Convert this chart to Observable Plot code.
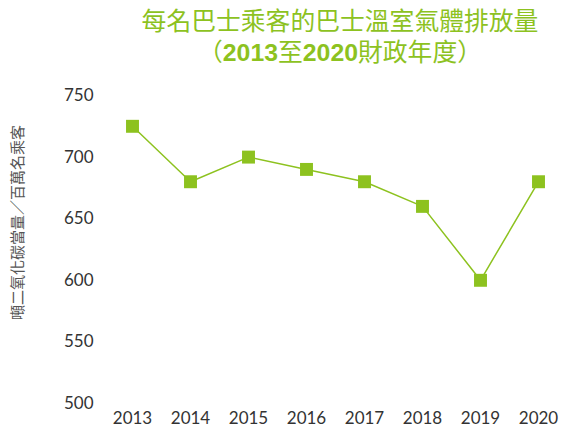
<!DOCTYPE html>
<html><head><meta charset="utf-8">
<script src="https://cdn.jsdelivr.net/npm/d3@7"></script>
<script src="https://cdn.jsdelivr.net/npm/@observablehq/plot@0.6"></script>
<style>
body{margin:0;background:#fff;width:567px;height:434px;overflow:hidden;}
#title{height:70px;width:567px;box-sizing:border-box;padding-left:113px;padding-top:6px;text-align:center;color:#8dc21f;font-family:"Liberation Sans","Noto Sans CJK TC",sans-serif;font-size:24.8px;}
#title div{height:31px;line-height:31px;}
#title b{font-weight:700;}
#chart svg{display:block;}
</style></head>
<body>
<div id="title"><div>每名巴士乘客的巴士溫室氣體排放量</div><div>（<b>2013</b>至<b>2020</b>財政年度）</div></div>
<div id="chart"></div>
<script>
const years = ["2013","2014","2015","2016","2017","2018","2019","2020"];
const values = [725, 680, 700, 690, 680, 660, 600, 680];
const yTicks = [500, 550, 600, 650, 700, 750];
const yLabel = "噸二氧化碳當量／百萬名乘客";
const green = "#8dc21f";

const data = years.map((y, i) => ({year: y, value: values[i]}));

const chart = Plot.plot({
  width: 567,
  height: 364,
  marginTop: 25,
  marginBottom: 31,
  marginLeft: 130,
  marginRight: 28,
  style: {fontFamily: "Lato, 'Noto Sans', sans-serif", fontSize: "17px", color: "#333", background: "#fff"},
  x: {type: "point", domain: years, padding: 0, label: null},
  y: {domain: [500, 750], label: null},
  marks: [
    Plot.axisY({ticks: yTicks, tickSize: 0, tickPadding: 37, label: null, fill: "#333"}),
    Plot.axisX({tickSize: 0, tickPadding: 8, label: null, fill: "#333"}),
    Plot.line(data, {x: "year", y: "value", stroke: green, strokeWidth: 1.5}),
    Plot.dot(data, {x: "year", y: "value", symbol: "square", r: 7.3, fill: green, stroke: "none"}),
    Plot.text([yLabel], {frameAnchor: "left", textAnchor: "middle", rotate: -90, dx: -112, dy: -27, fontSize: 15, fill: "#555", fontFamily: "'Noto Sans CJK TC', sans-serif"})
  ]
});
document.getElementById("chart").appendChild(chart);
</script>
</body></html>
